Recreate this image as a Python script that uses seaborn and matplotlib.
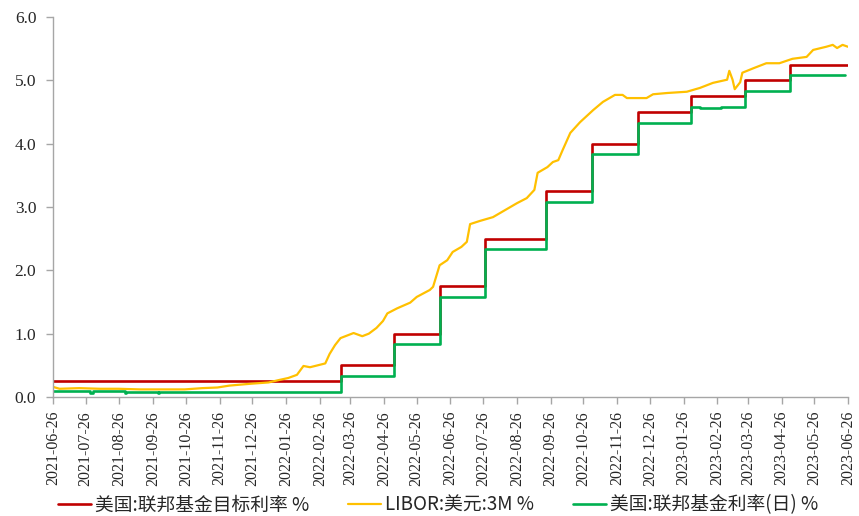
import numpy as np
import pandas as pd
import matplotlib
matplotlib.use('Agg')
import matplotlib.pyplot as plt
import matplotlib.dates as mdates
import seaborn as sns

# 美国:联邦基金目标利率(上限) - change dates
target_dates = ['2021-06-26', '2022-03-17', '2022-05-05', '2022-06-16', '2022-07-28',
                '2022-09-22', '2022-11-03', '2022-12-15', '2023-02-02', '2023-03-23',
                '2023-05-04', '2023-06-26']
target_vals = [0.25, 0.50, 1.00, 1.75, 2.50, 3.25, 4.00, 4.50, 4.75, 5.00, 5.25, 5.25]

# 美国:联邦基金利率(日)
effr_dates = ['2021-06-26', '2021-07-30', '2021-08-02', '2021-08-31', '2021-09-01',
              '2021-09-30', '2021-10-01', '2022-03-17', '2022-05-05', '2022-06-16',
              '2022-07-28', '2022-09-22', '2022-11-03', '2022-12-15', '2023-02-02',
              '2023-02-10', '2023-02-20', '2023-03-01', '2023-03-23', '2023-05-04',
              '2023-06-23']
effr_vals = [0.10, 0.07, 0.10, 0.06, 0.08, 0.06, 0.08, 0.33, 0.83, 1.58, 2.33, 3.08,
             3.83, 4.33, 4.58, 4.57, 4.57, 4.58, 4.83, 5.08, 5.08]

# LIBOR:美元:3M
libor_dates = ['2021-06-26', '2021-07-02', '2021-07-20', '2021-08-08', '2021-08-25',
               '2021-09-14', '2021-10-05', '2021-10-25', '2021-11-10', '2021-11-24',
               '2021-12-05', '2021-12-25', '2022-01-10', '2022-01-20', '2022-01-28',
               '2022-02-05', '2022-02-11', '2022-02-17', '2022-02-24', '2022-03-03',
               '2022-03-07', '2022-03-12', '2022-03-17', '2022-03-29', '2022-04-06',
               '2022-04-12', '2022-04-19', '2022-04-25', '2022-04-29', '2022-05-08',
               '2022-05-20', '2022-05-26', '2022-06-07', '2022-06-10', '2022-06-16',
               '2022-06-23', '2022-06-28', '2022-07-06', '2022-07-11', '2022-07-14',
               '2022-07-23', '2022-08-04', '2022-08-17', '2022-08-26', '2022-09-04',
               '2022-09-11', '2022-09-14', '2022-09-23', '2022-09-28', '2022-10-03',
               '2022-10-07', '2022-10-14', '2022-10-23', '2022-11-04', '2022-11-13',
               '2022-11-24', '2022-12-01', '2022-12-05', '2022-12-23', '2022-12-29',
               '2023-01-11', '2023-01-29', '2023-02-10', '2023-02-22', '2023-03-07',
               '2023-03-09', '2023-03-12', '2023-03-14', '2023-03-19', '2023-03-21',
               '2023-03-31', '2023-04-12', '2023-04-24', '2023-05-06', '2023-05-19',
               '2023-05-25', '2023-06-06', '2023-06-12', '2023-06-16', '2023-06-21',
               '2023-06-26']
libor_vals = [0.16, 0.13, 0.14, 0.13, 0.13, 0.12, 0.12, 0.12, 0.14, 0.15,
              0.18, 0.21, 0.23, 0.27, 0.30, 0.35, 0.49, 0.47, 0.50, 0.53,
              0.68, 0.82, 0.93, 1.01, 0.96, 1.00, 1.09, 1.20, 1.32, 1.40,
              1.49, 1.58, 1.69, 1.74, 2.08, 2.16, 2.29, 2.37, 2.45, 2.73,
              2.78, 2.84, 2.97, 3.06, 3.14, 3.27, 3.54, 3.63, 3.71, 3.74,
              3.90, 4.17, 4.34, 4.53, 4.66, 4.77, 4.77, 4.72, 4.72, 4.78,
              4.80, 4.82, 4.88, 4.96, 5.01, 5.15, 5.01, 4.86, 4.97, 5.12,
              5.19, 5.27, 5.27, 5.34, 5.37, 5.48, 5.53, 5.56, 5.51, 5.56,
              5.53]

labels = ['美国:联邦基金目标利率 %', 'LIBOR:美元:3M %', '美国:联邦基金利率(日) %']
colors = ['#C00000', '#FFC000', '#00B050']

sns.set_style('white')
plt.rcParams['font.family'] = ['Liberation Serif', 'Noto Sans CJK SC', 'DejaVu Sans']

fig = plt.figure(figsize=(8.59, 5.16), dpi=100)
ax = fig.add_axes([53 / 859, 1 - 397 / 516, 795 / 859, 380 / 516])

sns.lineplot(x=pd.to_datetime(target_dates), y=target_vals, drawstyle='steps-post',
             color=colors[0], linewidth=1.9, label=labels[0], ax=ax)
sns.lineplot(x=pd.to_datetime(libor_dates), y=libor_vals,
             color=colors[1], linewidth=1.6, label=labels[1], ax=ax)
sns.lineplot(x=pd.to_datetime(effr_dates), y=effr_vals, drawstyle='steps-post',
             color=colors[2], linewidth=1.9, label=labels[2], ax=ax)

ax.set_xlim(pd.Timestamp('2021-06-26'), pd.Timestamp('2023-06-26'))
ax.set_ylim(0, 6)
ticks = pd.date_range('2021-06-26', '2023-06-26', freq=pd.DateOffset(months=1))
ax.set_xticks(ticks)
ax.xaxis.set_major_formatter(mdates.DateFormatter('%Y-%m-%d'))
ax.set_yticks(np.arange(0, 6.1, 1))
ax.yaxis.set_major_formatter(matplotlib.ticker.FormatStrFormatter('%.1f'))
ax.set_xlabel('')
ax.set_ylabel('')

for s in ['top', 'right']:
    ax.spines[s].set_visible(False)
for s in ['left', 'bottom']:
    ax.spines[s].set_color('#A6A6A6')
    ax.spines[s].set_linewidth(1.0)
ax.tick_params(axis='both', direction='out', length=5, width=1, color='#A6A6A6',
               labelcolor='#262626', left=True, bottom=True)
ax.tick_params(axis='y', labelsize=12.5, pad=7)
ax.tick_params(axis='x', labelsize=11.5, labelrotation=90, pad=5)

ax.legend(handles=ax.get_lines()[:3], labels=labels, ncol=3, frameon=False,
          loc='center', bbox_to_anchor=(438 / 859, 1 - 505 / 516), bbox_transform=fig.transFigure,
          prop={'family': ['Noto Sans CJK SC', 'DejaVu Sans'], 'size': 13.5},
          handlelength=1.75, handletextpad=0.2, columnspacing=2.1, borderpad=0)

fig.savefig('out.png', dpi=100)
